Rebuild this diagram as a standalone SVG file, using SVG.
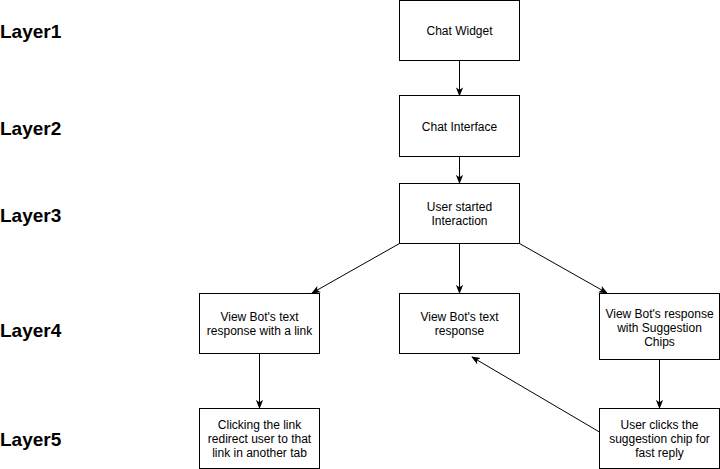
<svg xmlns="http://www.w3.org/2000/svg" width="720" height="469" viewBox="0 0 720 469">
<defs>
<marker id="ah" viewBox="0 0 10 10" refX="9" refY="5" markerWidth="9" markerHeight="9" markerUnits="userSpaceOnUse" orient="auto">
<path d="M0,1 L10,5 L0,9 L2.5,5 Z" fill="#000"/>
</marker>
<style>
.box{fill:#fff;stroke:#000;stroke-width:1}
.t{font-family:"Liberation Sans",Arial,sans-serif;font-size:12px;fill:#000;text-anchor:middle}
.lay{font-family:"Liberation Sans",Arial,sans-serif;font-size:19px;font-weight:bold;fill:#000}
.c{fill:none;stroke:#000;stroke-width:1;marker-end:url(#ah)}
</style>
</defs>
<rect width="720" height="469" fill="#fff"/>
<g id="layers">
<text class="lay" x="0" y="38">Layer1</text>
<text class="lay" x="0" y="135">Layer2</text>
<text class="lay" x="0" y="222">Layer3</text>
<text class="lay" x="0" y="337">Layer4</text>
<text class="lay" x="0" y="446">Layer5</text>
</g>
<g id="connectors">
<line class="c" x1="459.5" y1="60.5" x2="459.5" y2="95.5"/>
<line class="c" x1="459.5" y1="156.5" x2="459.5" y2="183"/>
<line class="c" x1="399.5" y1="243.5" x2="312" y2="293"/>
<line class="c" x1="459.5" y1="243.5" x2="459.5" y2="293"/>
<line class="c" x1="519.5" y1="243.5" x2="607" y2="293"/>
<line class="c" x1="259.5" y1="353.5" x2="259.5" y2="408"/>
<line class="c" x1="659.5" y1="359.5" x2="659.5" y2="408"/>
<line class="c" x1="599.5" y1="432" x2="472" y2="357"/>
</g>
<g id="n1"><rect class="box" x="399.5" y="0.5" width="120" height="60"/><text class="t" x="459.5" y="34.5">Chat Widget</text></g>
<g id="n2"><rect class="box" x="399.5" y="95.5" width="120" height="61"/><text class="t" x="459.5" y="131">Chat Interface</text></g>
<g id="n3"><rect class="box" x="399.5" y="183.5" width="120" height="60"/><text class="t" x="459.5" y="210.5">User started</text><text class="t" x="459.5" y="224.5">Interaction</text></g>
<g id="n4"><rect class="box" x="199.5" y="293.5" width="120" height="60"/><text class="t" x="259.5" y="320.5">View Bot's text</text><text class="t" x="259.5" y="334.5">response with a link</text></g>
<g id="n5"><rect class="box" x="399.5" y="293.5" width="120" height="60"/><text class="t" x="459.5" y="320.5">View Bot's text</text><text class="t" x="459.5" y="334.5">response</text></g>
<g id="n6"><rect class="box" x="599.5" y="293.5" width="120" height="66"/><text class="t" x="659.5" y="317.5">View Bot's response</text><text class="t" x="659.5" y="331.5">with Suggestion</text><text class="t" x="659.5" y="345.5">Chips</text></g>
<g id="n7"><rect class="box" x="199.5" y="408.5" width="120" height="60"/><text class="t" x="259.5" y="428.5">Clicking the link</text><text class="t" x="259.5" y="442.5">redirect user to that</text><text class="t" x="259.5" y="456.5">link in another tab</text></g>
<g id="n8"><rect class="box" x="599.5" y="408.5" width="120" height="60"/><text class="t" x="659.5" y="428.5">User clicks the</text><text class="t" x="659.5" y="442.5">suggestion chip for</text><text class="t" x="659.5" y="456.5">fast reply</text></g>
</svg>
